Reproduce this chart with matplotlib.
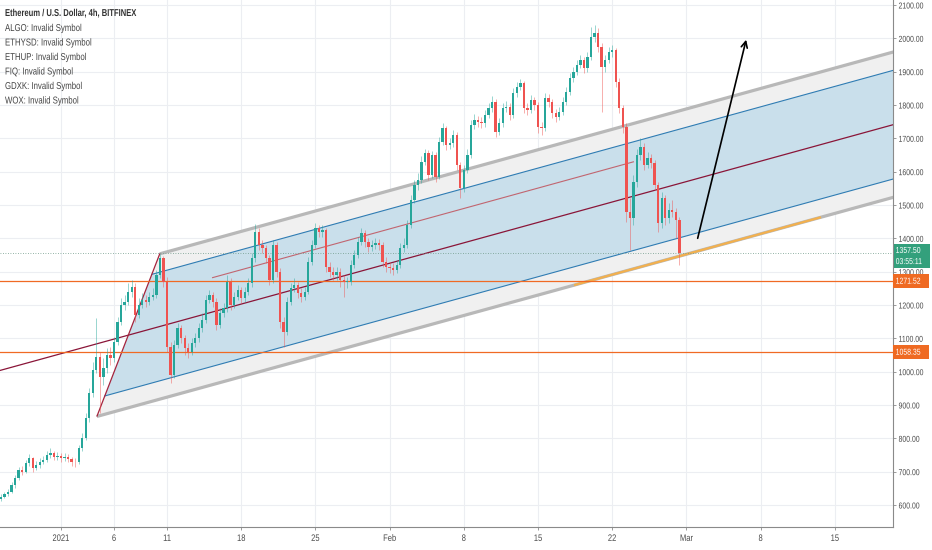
import numpy as np
import matplotlib.pyplot as plt
from matplotlib.transforms import blended_transform_factory, Affine2D
from matplotlib.patheffects import AbstractPathEffect

first_open = 618
closes = [
    625, 632, 640, 660, 680, 705, 700, 725, 740, 712, 720, 730,
    735, 750, 756, 745, 748, 740, 745, 738, 730, 728, 770, 800,
    860, 935, 1005, 1045, 985, 1010, 1050, 1040, 1090, 1150, 1200, 1210,
    1240, 1255, 1170, 1200, 1215, 1210, 1225, 1230, 1290, 1340, 1270, 1075,
    990, 1080, 1130, 1100, 1070, 1060, 1085, 1100, 1130, 1155, 1215, 1230,
    1210, 1140, 1175, 1190, 1270, 1200, 1225, 1245, 1220, 1240, 1265, 1340,
    1420, 1380, 1370, 1340, 1275, 1380, 1300, 1150, 1120, 1210, 1250, 1260,
    1235, 1225, 1240, 1330, 1380, 1430, 1420, 1425, 1315, 1300, 1290, 1300,
    1275, 1270, 1270, 1320, 1350, 1390, 1415, 1390, 1375, 1380, 1385, 1380,
    1330, 1315, 1310, 1305, 1320, 1370, 1380, 1440, 1515, 1560, 1575, 1630,
    1655, 1590, 1650, 1585, 1690, 1730, 1680, 1685, 1710, 1620, 1550, 1605,
    1650, 1740, 1755, 1750, 1745, 1770, 1790, 1810, 1720, 1745, 1790, 1795,
    1770, 1835, 1855, 1865, 1790, 1785, 1815, 1800, 1735, 1730, 1820, 1810,
    1775, 1765, 1780, 1810, 1840, 1880, 1900, 1920, 1935, 1910, 1945, 2005,
    2015, 1975, 1915, 1935, 1960, 1965, 1870, 1790, 1735, 1480, 1460, 1570,
    1650, 1675, 1620, 1640, 1625, 1560, 1445, 1520, 1460, 1485, 1480, 1455,
    1357.5,
]
highs = [
    632, 640, 648, 668, 690, 715, 718, 735, 752, 745, 732, 740,
    748, 762, 770, 762, 758, 755, 756, 752, 745, 740, 780, 815,
    875, 950, 1030, 1160, 1060, 1040, 1070, 1075, 1105, 1165, 1220, 1230,
    1265, 1275, 1265, 1220, 1235, 1230, 1240, 1250, 1305, 1352, 1348, 1285,
    1090, 1095, 1145, 1140, 1110, 1085, 1100, 1115, 1145, 1175, 1230, 1245,
    1240, 1220, 1190, 1205, 1290, 1280, 1240, 1260, 1255, 1255, 1280, 1355,
    1442, 1430, 1395, 1380, 1350, 1395, 1390, 1310, 1165, 1225, 1265, 1280,
    1270, 1250, 1255, 1345, 1395, 1445, 1440, 1440, 1432, 1330, 1315, 1315,
    1310, 1290, 1285, 1335, 1365, 1405, 1432, 1425, 1400, 1395, 1400, 1398,
    1390, 1345, 1330, 1325, 1335, 1385, 1400, 1455, 1530, 1575, 1595, 1648,
    1668, 1665, 1662, 1660, 1705, 1745, 1738, 1700, 1725, 1718, 1630, 1620,
    1668, 1755, 1772, 1768, 1765, 1785, 1805, 1828, 1818, 1760, 1805, 1812,
    1805, 1850, 1870, 1878, 1872, 1805, 1830, 1825, 1810, 1750, 1835, 1832,
    1818, 1788, 1795, 1825, 1855, 1895, 1915, 1935, 1950, 1945, 1960, 2035,
    2040, 2030, 1985, 1950, 1975, 1980, 1972, 1880, 1800, 1745, 1520, 1590,
    1668, 1700, 1685, 1660, 1652, 1635, 1570, 1540, 1530, 1505, 1515, 1490,
    1465,
]
lows = [
    612, 620, 628, 636, 652, 675, 690, 695, 718, 700, 705, 712,
    722, 728, 742, 735, 736, 730, 732, 728, 718, 715, 722, 762,
    795, 850, 925, 995, 876, 960, 995, 1020, 1030, 1080, 1140, 1185,
    1200, 1225, 1150, 1160, 1190, 1195, 1200, 1215, 1222, 1280, 1255, 1060,
    966, 980, 1070, 1085, 1050, 1040, 1050, 1075, 1090, 1120, 1145, 1205,
    1195, 1125, 1130, 1165, 1180, 1185, 1190, 1215, 1205, 1210, 1230, 1255,
    1330, 1365, 1355, 1325, 1260, 1265, 1285, 1130, 1075, 1110, 1200, 1240,
    1220, 1210, 1215, 1232, 1320, 1370, 1405, 1405, 1300, 1285, 1275, 1275,
    1255, 1225, 1250, 1260, 1310, 1340, 1380, 1375, 1360, 1362, 1368, 1365,
    1315, 1300, 1295, 1290, 1295, 1310, 1360, 1372, 1430, 1505, 1545, 1565,
    1620, 1575, 1580, 1570, 1578, 1680, 1665, 1668, 1675, 1605, 1520, 1540,
    1595, 1640, 1728, 1735, 1730, 1735, 1760, 1780, 1705, 1710, 1735, 1778,
    1755, 1760, 1825, 1845, 1775, 1770, 1775, 1785, 1715, 1710, 1722, 1795,
    1760, 1748, 1755, 1770, 1800, 1830, 1870, 1890, 1910, 1895, 1900, 1935,
    1990, 1960, 1780, 1900, 1925, 1945, 1855, 1775, 1715, 1450, 1365, 1440,
    1555, 1635, 1605, 1610, 1610, 1545, 1420, 1430, 1440, 1445, 1465, 1400,
    1320,
]

# days since 1 Jan 2021 of the first candle, candles every 8h
t_first = -5.667
# parallel channel: price = intercept + slope * day
chan_slope = 8.75
chan_mid = 1054
chan_inner = 163
chan_outer = 218
base_start = (3.40, 867)   # lower end of the channel base line
base_end = (9.31, 1353)
inner_red = (1157, 14.3, 54.0)  # intercept, start day, end day
support_seg = (48.5, 71.6)      # orange stretch along lower edge
levels = [1271.52, 1058.35]
last_price = 1357.50
countdown = '03:55:11'
arrow_from = (60.0, 1392)
arrow_to = (64.7, 2004)

price_ticks = list(range(600, 2101, 100))
date_ticks = [0, 5, 10, 17, 24, 31, 38, 45, 52, 59, 66, 73]
date_labels = ['2021', '6', '11', '18', '25', 'Feb', '8', '15', '22', 'Mar', '8', '15']

legend_lines = ['ALGO: Invalid Symbol', 'ETHYSD: Invalid Symbol', 'ETHUP: Invalid Symbol',
                'FIQ: Invalid Symbol', 'GDXK: Invalid Symbol', 'WOX: Invalid Symbol']

FONT = ['Liberation Sans Narrow', 'Liberation Sans', 'DejaVu Sans']
UP, DOWN = '#26a69a', '#ef5350'


class Squeeze(AbstractPathEffect):
    """Narrow the glyphs horizontally (no condensed font installed)."""
    def __init__(self, sx, center=False):
        super().__init__()
        self.sx = sx
        self.center = center

    def draw_path(self, renderer, gc, tpath, affine, rgbFace=None):
        cx = 0
        if self.center and len(tpath.vertices):
            ext = tpath.get_extents()
            cx = (ext.x0 + ext.x1) / 2
        t = Affine2D().translate(-cx, 0).scale(self.sx, 1).translate(cx, 0) + affine
        renderer.draw_path(gc, tpath, t, rgbFace)


fig = plt.figure(figsize=(9.32, 5.5), dpi=100)
ax = fig.add_axes([0, 23 / 550, 893 / 932, 527 / 550])
x0, x1 = -5.755, 78.49
ax.set_xlim(x0, x1)
ax.set_ylim(534, 2115)

for p in price_ticks:
    ax.axhline(p, color='#eceef2', lw=0.8, zorder=0)
for d in date_ticks:
    ax.axvline(d, color='#eceef2', lw=0.8, zorder=0)


# channel bands
def line_at(c, t):
    return c + chan_slope * np.asarray(t)


def base_cross(c):
    bs = (base_end[1] - base_start[1]) / (base_end[0] - base_start[0])
    return (c - base_start[1] + bs * base_start[0]) / (bs - chan_slope)


tend = x1 + 2
for off, col in [(chan_outer, '#f0f0f0'), (chan_inner, '#c9dfeb')]:
    lo, hi = chan_mid - off, chan_mid + off
    tl, th = base_cross(lo), base_cross(hi)
    xs = [tl, tend, tend, th]
    ys = [line_at(lo, tl), line_at(lo, tend), line_at(hi, tend), line_at(hi, th)]
    ax.fill(xs, ys, color=col, lw=0, zorder=1)

for off in (chan_outer, -chan_outer):
    c = chan_mid + off
    t = base_cross(c)
    ax.plot([t, tend], line_at(c, [t, tend]), color='#b8b8b8', lw=2.3, zorder=2,
            solid_capstyle='butt')
for off in (chan_inner, -chan_inner):
    c = chan_mid + off
    t = base_cross(c)
    ax.plot([t, tend], line_at(c, [t, tend]), color='#2f7cb3', lw=0.8, zorder=2)
ax.plot([x0 - 1, tend], line_at(chan_mid, [x0 - 1, tend]), color='#8a1538', lw=0.9, zorder=2)
ax.plot([base_start[0], base_end[0]], [base_start[1], base_end[1]], color='#a5243d',
        lw=0.9, zorder=2)
c, ta, tb = inner_red
ax.plot([ta, tb], line_at(c, [ta, tb]), color='#c0505a', lw=0.8, alpha=0.85, zorder=2)
ax.plot(list(support_seg), line_at(chan_mid - chan_outer, support_seg), color='#f2b04e',
        lw=1.6, zorder=2.2)

for lv in levels:
    ax.axhline(lv, color='#f06a24', lw=0.9, zorder=2.3)
ax.axhline(last_price, color='#6f9a88', lw=0.6, ls=(0, (1, 2)), zorder=2.3)

# candles
closes_a = np.array(closes, dtype=float)
opens_a = np.concatenate([[first_open], closes_a[:-1]])
tx = t_first + np.arange(len(closes_a)) / 3
colors = np.where(closes_a >= opens_a, UP, DOWN)
ax.vlines(tx, lows, highs, colors=colors, lw=0.6, alpha=0.55, zorder=3)
body_lo = np.minimum(opens_a, closes_a)
body_h = np.maximum(np.abs(closes_a - opens_a), 2)
ax.bar(tx, body_h, bottom=body_lo, width=0.22, color=colors, lw=0, zorder=3.2)

ax.annotate('', xy=arrow_to, xytext=arrow_from,
            arrowprops=dict(arrowstyle='->', color='black', lw=1.2, mutation_scale=11),
            zorder=4)

# axes styling
for s in ['top', 'left']:
    ax.spines[s].set_visible(False)
for s in ['right', 'bottom']:
    ax.spines[s].set_color('#8a8a8a')
    ax.spines[s].set_linewidth(0.8)
ax.yaxis.tick_right()
ax.set_yticks(price_ticks)
ax.set_yticklabels([f'{p:.2f}' for p in price_ticks], family=FONT, fontsize=6.2,
                   color='#4a4a4a', path_effects=[Squeeze(0.8)])
ax.set_xticks(date_ticks)
ax.set_xticklabels(date_labels, family=FONT, fontsize=6.8, color='#4a4a4a',
                   path_effects=[Squeeze(0.8, center=True)])
ax.tick_params(axis='y', length=2, width=0.6, color='#8a8a8a', pad=2)
ax.tick_params(axis='x', length=2, width=0.6, color='#8a8a8a', pad=3)

tr = blended_transform_factory(ax.transAxes, ax.transData)
ax.annotate(f'{last_price:.2f}\n{countdown}', xy=(1.003, last_price), xycoords=tr,
            xytext=(0, -3.5), textcoords='offset pixels', ha='left', va='center',
            fontsize=6.2, family=FONT, color='white', linespacing=1.3,
            bbox=dict(boxstyle='square,pad=0.2', fc='#33a07c', ec='none'),
            annotation_clip=False, zorder=5, path_effects=[Squeeze(0.8)])
for lv in levels:
    ax.text(1.003, lv, f'{lv:.2f}', transform=tr, ha='left', va='center', fontsize=6.2,
            family=FONT, color='white',
            bbox=dict(boxstyle='square,pad=0.3', fc='#ef6a22', ec='none'), clip_on=False,
            zorder=5, path_effects=[Squeeze(0.8)])

fig.text(5 / 932, 1 - 13 / 550, 'Ethereum / U.S. Dollar, 4h, BITFINEX', family=FONT,
         fontsize=7.2, fontweight='bold', color='#333333', va='center',
         path_effects=[Squeeze(0.76)])
for k, s in enumerate(legend_lines):
    fig.text(5 / 932, 1 - (28 + 14.5 * k) / 550, s, family=FONT, fontsize=7.2,
             color='#444444', va='center', path_effects=[Squeeze(0.78)])

fig.savefig('out.png', dpi=100)
